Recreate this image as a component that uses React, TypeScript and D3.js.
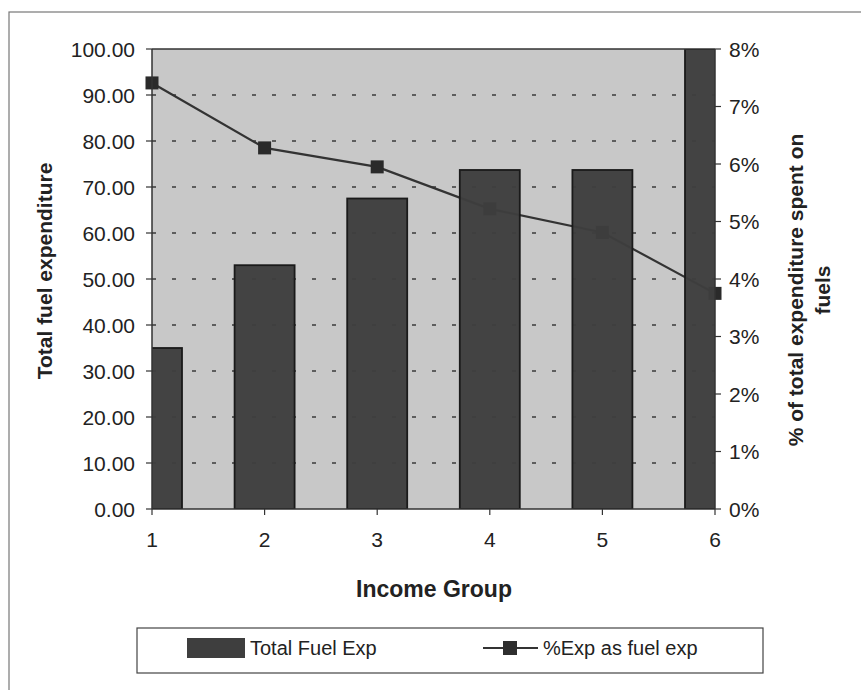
import React from "react";
import * as d3 from "d3";

const categories = [1, 2, 3, 4, 5, 6];
const totalFuelExp = [35, 53, 67.5, 73.7, 73.7, 100];
const pctExpAsFuel = [0.0741, 0.0628, 0.0595, 0.0522, 0.0481, 0.0375];
const leftTicks = [0, 10, 20, 30, 40, 50, 60, 70, 80, 90, 100];
const rightTicks = [0, 0.01, 0.02, 0.03, 0.04, 0.05, 0.06, 0.07, 0.08];
const seriesNames = ["Total Fuel Exp", "%Exp as fuel exp"];

const W = 861;
const H = 690;
const M = { left: 152, right: 715, top: 49, bottom: 509 };
const FONT = "'Liberation Sans', Arial, Helvetica, sans-serif";

export default function App() {
  const x = d3.scaleLinear().domain([1, 6]).range([M.left, M.right]);
  const yL = d3.scaleLinear().domain([0, 100]).range([M.bottom, M.top]);
  const yR = d3.scaleLinear().domain([0, 0.08]).range([M.bottom, M.top]);
  const barW = 60;
  const line = d3
    .line<number>()
    .x((_, i) => x(categories[i]))
    .y((d) => yR(d));
  const pctFmt = d3.format(".0%");
  const numFmt = d3.format(".2f");

  return (
    <svg
      width={W}
      height={H}
      style={{ position: "absolute", left: 0, top: 0, background: "#fff" }}
      fontFamily={FONT}
    >
      <defs>
        <clipPath id="plotClip">
          <rect x={M.left} y={M.top} width={M.right - M.left} height={M.bottom - M.top} />
        </clipPath>
      </defs>
      {/* outer border */}
      <rect x={9} y={12} width={W + 10} height={H + 10} fill="none" stroke="#777" strokeWidth={1.2} />
      {/* plot background */}
      <rect
        x={M.left}
        y={M.top}
        width={M.right - M.left}
        height={M.bottom - M.top}
        fill="#c8c8c8"
      />
      {/* gridlines */}
      {leftTicks
        .filter((t) => t > 0 && t < 100)
        .map((t) => (
          <line
            key={"g" + t}
            x1={M.left}
            x2={M.right}
            y1={yL(t)}
            y2={yL(t)}
            stroke="#3a3a3a"
            strokeWidth={1.4}
            strokeDasharray="4,16"
          />
        ))}
      {/* line series (behind bars) */}
      <path d={line(pctExpAsFuel) || ""} fill="none" stroke="#333" strokeWidth={2.2} />
      {pctExpAsFuel.map((v, i) => (
        <rect
          key={"m" + i}
          x={x(categories[i]) - 6.5}
          y={yR(v) - 6.5}
          width={13}
          height={13}
          fill="#2a2a2a"
        />
      ))}
      {/* bars */}
      <g clipPath="url(#plotClip)">
        {totalFuelExp.map((v, i) => (
          <rect
            key={"b" + i}
            x={x(categories[i]) - barW / 2}
            y={yL(v)}
            width={barW}
            height={M.bottom - yL(v)}
            fill="#3e3e3e"
            fillOpacity={0.97}
            stroke="#1a1a1a"
            strokeWidth={1.8}
          />
        ))}
      </g>
      {/* plot frame top */}
      <line x1={M.left} x2={M.right} y1={M.top} y2={M.top} stroke="#333" strokeWidth={1.5} />
      {/* axes */}
      <line x1={M.left} x2={M.left} y1={M.top} y2={M.bottom} stroke="#333" strokeWidth={1.5} />
      <line x1={M.right} x2={M.right} y1={M.top} y2={M.bottom} stroke="#333" strokeWidth={1.5} />
      <line x1={M.left} x2={M.right} y1={M.bottom} y2={M.bottom} stroke="#333" strokeWidth={1.5} />
      {leftTicks.map((t) => (
        <g key={"lt" + t}>
          <line x1={M.left - 6} x2={M.left} y1={yL(t)} y2={yL(t)} stroke="#333" strokeWidth={1.2} />
          <text
            x={135}
            y={yL(t)}
            textAnchor="end"
            dominantBaseline="central"
            fontSize={21}
            fill="#222"
          >
            {numFmt(t)}
          </text>
        </g>
      ))}
      {rightTicks.map((t) => (
        <g key={"rt" + t}>
          <line x1={M.right} x2={M.right + 6} y1={yR(t)} y2={yR(t)} stroke="#333" strokeWidth={1.2} />
          <text
            x={729}
            y={yR(t)}
            textAnchor="start"
            dominantBaseline="central"
            fontSize={21}
            fill="#222"
          >
            {pctFmt(t)}
          </text>
        </g>
      ))}
      {categories.map((c) => (
        <g key={"xt" + c}>
          <line x1={x(c)} x2={x(c)} y1={M.bottom} y2={M.bottom + 6} stroke="#333" strokeWidth={1.2} />
          <text x={x(c)} y={547} textAnchor="middle" fontSize={21} fill="#222">
            {c}
          </text>
        </g>
      ))}
      {/* axis titles */}
      <text x={434} y={597} textAnchor="middle" fontSize={23} fontWeight="bold" fill="#222">
        Income Group
      </text>
      <text
        transform={`translate(44,271) rotate(-90)`}
        textAnchor="middle"
        dominantBaseline="central"
        fontSize={21}
        fontWeight="bold"
        fill="#222"
      >
        Total fuel expenditure
      </text>
      <text
        transform={`translate(795,290) rotate(-90)`}
        textAnchor="middle"
        dominantBaseline="central"
        fontSize={21}
        fontWeight="bold"
        fill="#222"
      >
        % of total expenditure spent on
      </text>
      <text
        transform={`translate(822,290) rotate(-90)`}
        textAnchor="middle"
        dominantBaseline="central"
        fontSize={21}
        fontWeight="bold"
        fill="#222"
      >
        fuels
      </text>
      {/* legend */}
      <rect x={137} y={628} width={626} height={45} fill="#fff" stroke="#444" strokeWidth={1.2} />
      <rect x={187} y={638} width={58} height={20} fill="#3e3e3e" />
      <text x={250} y={655} fontSize={20} fill="#222">
        {seriesNames[0]}
      </text>
      <line x1={483} x2={538} y1={648} y2={648} stroke="#333" strokeWidth={2.2} />
      <rect x={503} y={641} width={14} height={14} fill="#2e2e2e" />
      <text x={543} y={655} fontSize={20} fill="#222">
        {seriesNames[1]}
      </text>
    </svg>
  );
}
